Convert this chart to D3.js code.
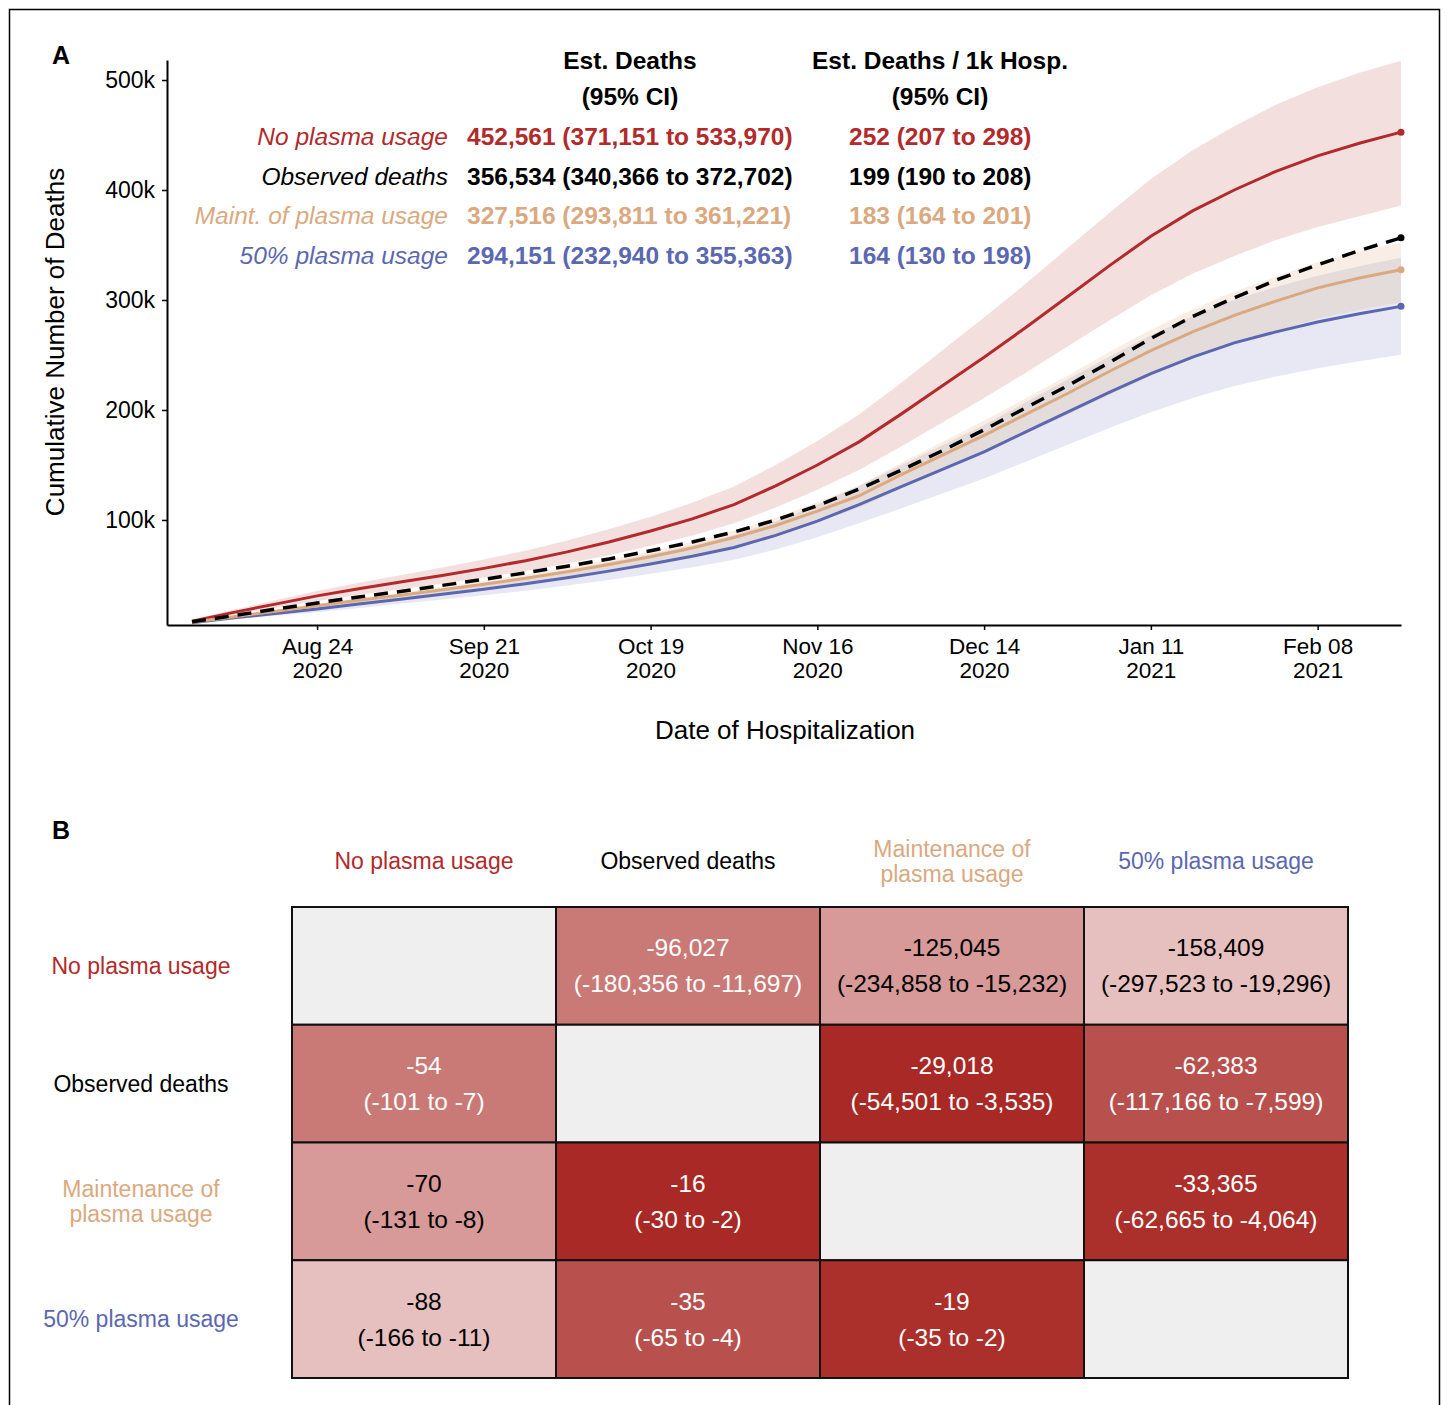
<!DOCTYPE html>
<html>
<head>
<meta charset="utf-8">
<script src="https://cdn.jsdelivr.net/npm/d3@7"></script>
<style>
body{margin:0;background:#fff;}
text{font-family:"Liberation Sans",Arial,Helvetica,sans-serif;}
</style>
</head>
<body>
<svg id="fig" width="1447" height="1405"></svg>
<script>
// scenario names and colours
var SCEN_SHORT = ["No plasma usage", "Observed deaths", "Maint. of plasma usage", "50% plasma usage"];
var SCEN_LONG = [["No plasma usage"], ["Observed deaths"], ["Maintenance of", "plasma usage"], ["50% plasma usage"]];
var SCEN_COL = ["#B22A2B", "#000000", "#DAA97F", "#5B68B1"];

// weekly cumulative deaths (thousands), Aug 3 2020 .. Feb 22 2021
var noPlasma = [8,16,23.5,31,37.5,43.5,49.5,56,63,71,80,90,101,114,131,150,171,196,222,248,275,303,331,358,381,400,417,431,442.5,452.6];
var noPlasmaHi = [9.2,18.3,26.9,35.5,42.9,49.8,56.7,64.1,72.1,81.3,91.6,103,115.6,130.5,150,171.8,195.8,224.4,254.2,284,314.9,347,379,409.9,436.2,458,477.5,493.5,506.7,517.5];
var noPlasmaLo = [6.8,13.6,20,26.4,31.9,37,42.1,47.6,53.6,60.4,68,76.5,85.9,96.9,111.4,127.5,145.4,166.6,188.7,210.8,233.8,257.6,281.4,304.3,323.9,340,354.5,366.4,376.1,386];
var observed = [7.5,13,19,24.5,30,35,40.5,46,52,58,64.5,72,80,89,100,113,128,145,163,182,202,222,243,265,285,302,318,332,345,356.5];
var maint = [7,12,17,22,27,31.5,36.5,41.5,47,53,59.5,66.5,74.5,84,95,108,122,141,159,177,196,215,235,254,271,286,299,311,320,327.5];
var maintHi = [7.5,12.9,18.3,23.7,29,33.9,39.2,44.6,50.5,57,64,71.5,80.1,90.3,102.1,116.1,131.2,151.6,170.9,190.3,210.7,231.1,252.6,273,291.3,307.5,321.4,334.3,344,352];
var maintLo = [6.4,10.9,15.5,20,24.6,28.7,33.2,37.8,42.8,48.2,54.1,60.5,67.8,76.4,86.5,98.3,111,128.3,144.7,161.1,178.4,195.7,213.9,231.1,246.6,260.3,272.1,283,291.2,298];
var half = [6.5,11,15,19,23.5,28,32.5,37,42,47.5,53.5,60,67,75,86,99,114,130,146,162,180,198,216,233,248,261,271,280,287.5,294.2];
var halfHi = [7.5,12.7,17.3,21.9,27,32.2,37.4,42.6,48.3,54.6,61.5,69,77,86.3,98.9,113.9,131.1,149.5,167.9,186.3,207,227.7,248.4,268,285.2,300.2,311.7,322,330.6,338.3];
var halfLo = [5.5,9.4,12.8,16.2,20,23.8,27.6,31.5,35.7,40.4,45.5,51,57,63.8,73.1,84.2,96.9,110.5,124.1,137.7,153,168.3,183.6,198,210.8,221.9,230.4,238,244.4,250.1];

var yTicks = [100, 200, 300, 400, 500];
var xTickDates = [new Date(2020,7,24), new Date(2020,8,21), new Date(2020,9,19), new Date(2020,10,16),
                  new Date(2020,11,14), new Date(2021,0,11), new Date(2021,1,8)];

// legend table of panel A
var estDeaths = [452561, 356534, 327516, 294151];
var estDeathsLo = [371151, 340366, 293811, 232940];
var estDeathsHi = [533970, 372702, 361221, 355363];
var per1k = [252, 199, 183, 164];
var per1kLo = [207, 190, 164, 130];
var per1kHi = [298, 208, 201, 198];

// panel B: row scenario minus column scenario (upper: deaths, lower: per 1k hosp.)
var diffEst = [[null,-96027,-125045,-158409],[-54,null,-29018,-62383],[-70,-16,null,-33365],[-88,-35,-19,null]];
var diffLo  = [[null,-180356,-234858,-297523],[-101,null,-54501,-117166],[-131,-30,null,-62665],[-166,-65,-35,null]];
var diffHi  = [[null,-11697,-15232,-19296],[-7,null,-3535,-7599],[-8,-2,null,-4064],[-11,-4,-2,null]];

var dates = d3.timeMonday.range(new Date(2020,7,3), new Date(2021,1,23));

var svg = d3.select("#fig");
var fmt = d3.formatLocale({decimal:".", thousands:",", grouping:[3], currency:["",""], minus:"-"}).format(",");

// figure frame
svg.append("rect").attr("x",9.5).attr("y",9.5).attr("width",1430).attr("height",1430)
   .attr("fill","none").attr("stroke","#000").attr("stroke-width",1.5);

// ---------------- panel A ----------------
var x = d3.scaleTime().domain([new Date(2020,6,29,19,12), new Date(2021,1,22)]).range([167,1401]);
var y = d3.scaleLinear().domain([4.5,518.2]).range([625,60]);

var area = function(lo, hi){
  return d3.area().x(function(d,i){return x(dates[i]);})
           .y0(function(d,i){return y(lo[i]);})
           .y1(function(d,i){return y(hi[i]);})(lo);
};
var line = function(v){
  return d3.line().x(function(d,i){return x(dates[i]);}).y(function(d){return y(d);})(v);
};

var gA = svg.append("g");
gA.append("path").attr("d",area(noPlasmaLo,noPlasmaHi)).attr("fill",SCEN_COL[0]).attr("fill-opacity",0.15);
gA.append("path").attr("d",area(halfLo,halfHi)).attr("fill",SCEN_COL[3]).attr("fill-opacity",0.15);
gA.append("path").attr("d",area(maintLo,maintHi)).attr("fill",SCEN_COL[2]).attr("fill-opacity",0.2);

var series = [{v:noPlasma,c:SCEN_COL[0]},{v:half,c:SCEN_COL[3]},{v:maint,c:SCEN_COL[2]},{v:observed,c:"#000",dash:"14,9"}];
series.forEach(function(s){
  gA.append("path").attr("d",line(s.v)).attr("fill","none").attr("stroke",s.c)
    .attr("stroke-width",s.dash?3.5:3).attr("stroke-dasharray",s.dash||null);
  gA.append("circle").attr("cx",x(dates[dates.length-1])).attr("cy",y(s.v[s.v.length-1]))
    .attr("r",3.5).attr("fill",s.c);
});

// axes
var yAxis = svg.append("g").attr("transform","translate(167,0)")
   .call(d3.axisLeft(y).tickValues(yTicks).tickSize(5).tickSizeOuter(0).tickPadding(7)
         .tickFormat(function(d){return d+"k";}));
var xAxis = svg.append("g").attr("transform","translate(0,625)")
   .call(d3.axisBottom(x).tickValues(xTickDates).tickSize(5).tickSizeOuter(0).tickFormat(""));
[yAxis,xAxis].forEach(function(g){
  g.select(".domain").attr("stroke","#000").attr("stroke-width",2);
  g.selectAll(".tick line").attr("stroke","#000").attr("stroke-width",1.5);
});
yAxis.selectAll(".tick text").attr("font-size",23).attr("fill","#000")
     .attr("font-family","Liberation Sans, Arial, sans-serif");
xAxis.selectAll(".tick").each(function(d){
  var t = d3.select(this).append("text").attr("fill","#000").attr("font-size",22.5)
            .attr("text-anchor","middle").attr("font-family","Liberation Sans, Arial, sans-serif");
  t.append("tspan").attr("x",0).attr("y",29).text(d3.timeFormat("%b %d")(d));
  t.append("tspan").attr("x",0).attr("y",53).text(d3.timeFormat("%Y")(d));
});

svg.append("text").attr("x",785).attr("y",739).attr("text-anchor","middle").attr("font-size",26)
   .text("Date of Hospitalization");
svg.append("text").attr("transform","translate(64,342) rotate(-90)").attr("text-anchor","middle")
   .attr("font-size",26).text("Cumulative Number of Deaths");
svg.append("text").attr("x",61).attr("y",64).attr("text-anchor","middle").attr("font-size",25)
   .attr("font-weight","bold").text("A");

// legend table
var hdr = [{x:630,l1:"Est. Deaths"},{x:940,l1:"Est. Deaths / 1k Hosp."}];
hdr.forEach(function(h){
  svg.append("text").attr("x",h.x).attr("y",69).attr("text-anchor","middle").attr("font-size",24.5)
     .attr("font-weight","bold").text(h.l1);
  svg.append("text").attr("x",h.x).attr("y",105).attr("text-anchor","middle").attr("font-size",24.5)
     .attr("font-weight","bold").text("(95% CI)");
});
var rowY = [136, 176, 215, 255];
SCEN_SHORT.forEach(function(s,i){
  svg.append("text").attr("x",448).attr("y",rowY[i]+8.5).attr("text-anchor","end").attr("font-size",24.5)
     .attr("font-style","italic").attr("fill",SCEN_COL[i]).text(s);
  svg.append("text").attr("x",467).attr("y",rowY[i]+8.5).attr("font-size",24.5).attr("font-weight","bold")
     .attr("fill",SCEN_COL[i])
     .text(fmt(estDeaths[i])+" ("+fmt(estDeathsLo[i])+" to "+fmt(estDeathsHi[i])+")");
  svg.append("text").attr("x",849).attr("y",rowY[i]+8.5).attr("font-size",24.5).attr("font-weight","bold")
     .attr("fill",SCEN_COL[i])
     .text(per1k[i]+" ("+per1kLo[i]+" to "+per1kHi[i]+")");
});

// ---------------- panel B ----------------
svg.append("text").attr("x",61).attr("y",839).attr("text-anchor","middle").attr("font-size",25)
   .attr("font-weight","bold").text("B");

var bx = d3.scaleBand().domain(d3.range(4)).range([292,1348]);
var by = d3.scaleBand().domain(d3.range(4)).range([907,1378]);
var heat = d3.scaleLinear().domain([-88,-16]).range(["#E6C0BF","#A82925"]);

// column headers and row labels
SCEN_LONG.forEach(function(lines,i){
  var cx = bx(i)+bx.bandwidth()/2;
  lines.forEach(function(l,k){
    svg.append("text").attr("x",cx).attr("y",861+8+(k-(lines.length-1)/2)*25)
       .attr("text-anchor","middle").attr("font-size",23).attr("fill",SCEN_COL[i]).text(l);
  });
  var cyy = by(i)+by.bandwidth()/2;
  lines.forEach(function(l,k){
    svg.append("text").attr("x",141).attr("y",cyy+8+(k-(lines.length-1)/2)*25)
       .attr("text-anchor","middle").attr("font-size",23).attr("fill",SCEN_COL[i]).text(l);
  });
});

var cells = [];
for (var r=0;r<4;r++){ for (var c=0;c<4;c++){ cells.push({r:r,c:c}); } }
var gB = svg.append("g");
cells.forEach(function(d){
  var v = d.r===d.c ? null : (d.r>d.c ? diffEst[d.r][d.c] : diffEst[d.c][d.r]);
  var fill = v===null ? "#EFEFEF" : heat(v);
  gB.append("rect").attr("x",bx(d.c)).attr("y",by(d.r)).attr("width",bx.bandwidth()).attr("height",by.bandwidth())
    .attr("fill",fill).attr("stroke","#111").attr("stroke-width",2);
  if (d.r!==d.c){
    var tc = d3.hsl(fill).l < 0.68 ? "#fff" : "#000";
    var cx = bx(d.c)+bx.bandwidth()/2, cyy = by(d.r)+by.bandwidth()/2;
    gB.append("text").attr("x",cx).attr("y",cyy-18+8.5).attr("text-anchor","middle").attr("font-size",24.5)
      .attr("fill",tc).text(fmt(diffEst[d.r][d.c]));
    gB.append("text").attr("x",cx).attr("y",cyy+18+8.5).attr("text-anchor","middle").attr("font-size",24.5)
      .attr("fill",tc).text("("+fmt(diffLo[d.r][d.c])+" to "+fmt(diffHi[d.r][d.c])+")");
  }
});
</script>
</body>
</html>
